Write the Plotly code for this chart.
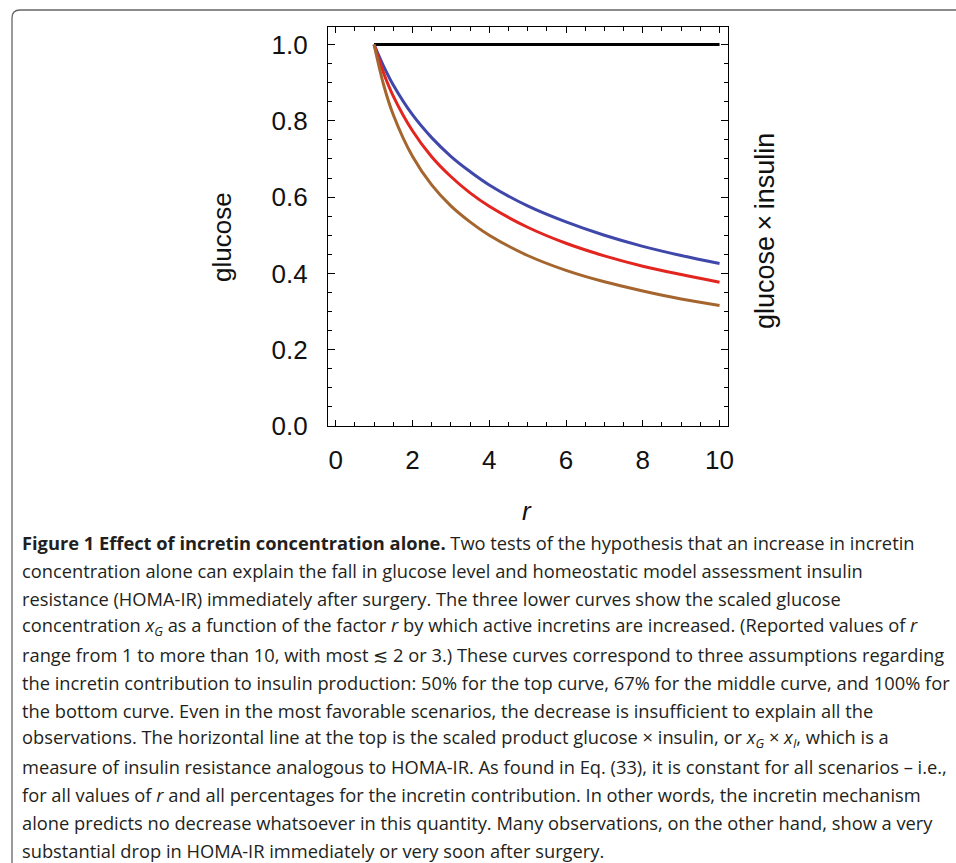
import plotly.graph_objects as go

# ---- data ----
r_vals = [1.0, 1.25, 1.5, 2.0, 2.5, 3.0, 3.5, 4.0, 5.0, 6.0, 7.0, 8.0, 9.0, 10.0]
glucose_50 = [1.0, 0.943, 0.894, 0.816, 0.756, 0.707, 0.667, 0.632, 0.577, 0.535, 0.500, 0.471, 0.447, 0.426]
glucose_67 = [1.0, 0.925, 0.865, 0.774, 0.706, 0.654, 0.611, 0.576, 0.521, 0.479, 0.446, 0.419, 0.397, 0.377]
glucose_100 = [1.0, 0.894, 0.816, 0.707, 0.632, 0.577, 0.535, 0.500, 0.447, 0.408, 0.378, 0.354, 0.333, 0.316]
product_r = [1.0, 10.0]
product_val = [1.0, 1.0]

x_ticks = [0, 2, 4, 6, 8, 10]
y_ticks = [0.0, 0.2, 0.4, 0.6, 0.8, 1.0]
y_tick_labels = ["0.0", "0.2", "0.4", "0.6", "0.8", "1.0"]

caption_lines = [
    "<b>Figure 1 Effect of incretin concentration alone.</b> Two tests of the hypothesis that an increase in incretin",
    "concentration alone can explain the fall in glucose level and homeostatic model assessment insulin",
    "resistance (HOMA-IR) immediately after surgery. The three lower curves show the scaled glucose",
    "concentration <i>x<sub>G</sub></i> as a function of the factor <i>r</i> by which active incretins are increased. (Reported values of <i>r</i>",
    "range from 1 to more than 10, with most \u2272 2 or 3.) These curves correspond to three assumptions regarding",
    "the incretin contribution to insulin production: 50% for the top curve, 67% for the middle curve, and 100% for",
    "the bottom curve. Even in the most favorable scenarios, the decrease is insufficient to explain all the",
    "observations. The horizontal line at the top is the scaled product glucose \u00d7 insulin, or <i>x<sub>G</sub></i> \u00d7 <i>x<sub>I</sub></i>, which is a",
    "measure of insulin resistance analogous to HOMA-IR. As found in Eq. (33), it is constant for all scenarios \u2013 i.e.,",
    "for all values of <i>r</i> and all percentages for the incretin contribution. In other words, the incretin mechanism",
    "alone predicts no decrease whatsoever in this quantity. Many observations, on the other hand, show a very",
    "substantial drop in HOMA-IR immediately or very soon after surgery.",
]

# ---- layout geometry (page pixels) ----
W, H = 956, 863
PL, PR, PT, PB = 328, 728, 27, 426


def px_x(p):
    return (p - PL) / (PR - PL)


def px_y(p):
    return (PB - p) / (PB - PT)


fig = go.Figure()
fig.add_trace(go.Scatter(x=product_r, y=product_val, mode="lines",
                         line=dict(color="#000000", width=3), showlegend=False))
fig.add_trace(go.Scatter(x=r_vals, y=glucose_50, mode="lines", line_shape="spline",
                         line=dict(color="#4047ab", width=3), showlegend=False))
fig.add_trace(go.Scatter(x=r_vals, y=glucose_67, mode="lines", line_shape="spline",
                         line=dict(color="#e2261f", width=3), showlegend=False))
fig.add_trace(go.Scatter(x=r_vals, y=glucose_100, mode="lines", line_shape="spline",
                         line=dict(color="#a4662e", width=3), showlegend=False))

tick_font = dict(family="Liberation Sans, Arial, sans-serif", size=26, color="#111111")

fig.update_xaxes(range=[-0.2, 10.22], tickvals=x_ticks, ticks="inside", ticklen=6,
                 tickwidth=1.2, tickcolor="black", showline=True, linecolor="black",
                 linewidth=1.3, mirror="ticks", showgrid=False, zeroline=False,
                 tickfont=tick_font, ticklabelstandoff=11,
                 minor=dict(dtick=0.5, tick0=0, ticks="inside", ticklen=4,
                            tickwidth=1, tickcolor="black", showgrid=False))
fig.update_yaxes(range=[0, 1.046], tickvals=y_ticks, ticktext=y_tick_labels,
                 ticks="inside", ticklen=7, tickwidth=1.2, tickcolor="black",
                 showline=True, linecolor="black", linewidth=1.3, mirror="ticks",
                 showgrid=False, zeroline=False, tickfont=tick_font,
                 ticklabelstandoff=14,
                 minor=dict(dtick=0.05, tick0=0, ticks="inside", ticklen=4,
                            tickwidth=1, tickcolor="black", showgrid=False))

label_font = dict(family="Liberation Sans, Arial", size=26, color="#111111")
annotations = [
    dict(x=px_x(222), y=px_y(237), xref="paper", yref="paper", text="glucose",
         xanchor="center", yanchor="middle", textangle=-90, showarrow=False, font=label_font),
    dict(x=px_x(765), y=px_y(231), xref="paper", yref="paper",
         text="glucose\u2009\u00d7\u2009insulin", xanchor="center", yanchor="middle",
         textangle=-90, showarrow=False, font=dict(family="Liberation Sans, Arial", size=27, color="#111111")),
    dict(x=px_x(527), y=px_y(511), xref="paper", yref="paper", text="<i>r</i>",
         xanchor="center", yanchor="middle", showarrow=False, font=label_font),
]

for i, line in enumerate(caption_lines):
    annotations.append(dict(x=px_x(20), y=px_y(542 + 28 * i), xref="paper", yref="paper",
                            xanchor="left", yanchor="middle", align="left", text=line,
                            showarrow=False,
                            font=dict(family="Open Sans, sans-serif", size=18.3, color="#231f20")))

# figure border with rounded top-left corner (kept inside the figure)
bx0, by0, rad = 12, 10, 8
path = (f"M {px_x(bx0)},{px_y(H)} L {px_x(bx0)},{px_y(by0 + rad)} "
        f"Q {px_x(bx0)},{px_y(by0)} {px_x(bx0 + rad)},{px_y(by0)} "
        f"L {px_x(W)},{px_y(by0)}")
shapes = [dict(type="path", xref="paper", yref="paper", path=path,
               line=dict(color="#666666", width=1.3))]

fig.update_layout(width=W, height=H, margin=dict(l=PL, r=W - PR, t=PT, b=H - PB),
                  plot_bgcolor="white", paper_bgcolor="white",
                  annotations=annotations, shapes=shapes)

fig.write_html("out.html",
               config={"displayModeBar": False},
               post_script="document.body.style.margin='0px';"
                           "document.body.style.overflow='hidden';"
                           "document.documentElement.style.overflow='hidden';")
